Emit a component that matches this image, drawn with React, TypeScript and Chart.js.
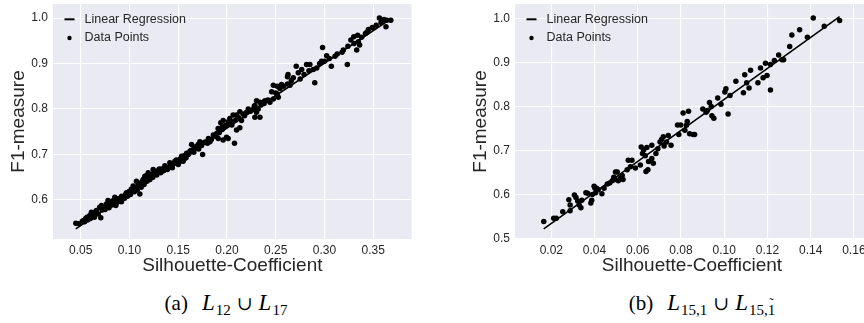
import React, { useEffect, useRef } from "react";
import { Chart, registerables } from "chart.js";

Chart.register(...registerables);

// ---------- Panel (a): L12 ∪ L17 ----------
const xTicksA = [0.05, 0.1, 0.15, 0.2, 0.25, 0.3, 0.35];
const yTicksA = [0.6, 0.7, 0.8, 0.9, 1.0];

const silA = [
  0.045, 0.0517, 0.0531, 0.0552, 0.0565, 0.0593, 0.061, 0.0627, 0.0644, 0.0661,
  0.0706, 0.0695, 0.0713, 0.0747, 0.0764, 0.078, 0.0815, 0.0833, 0.086, 0.085,
  0.0884, 0.0918, 0.0935, 0.0969, 0.0986, 0.1106, 0.102, 0.1038, 0.1055, 0.1072,
  0.1106, 0.1123, 0.114, 0.1158, 0.1202, 0.1175, 0.1192, 0.1226, 0.1243, 0.1277,
  0.1305, 0.1346, 0.1363, 0.1397, 0.1414, 0.1466, 0.15, 0.155, 0.152, 0.1534,
  0.1568, 0.1586, 0.1603, 0.162, 0.1637, 0.1654, 0.1687, 0.1705, 0.1722, 0.175,
  0.1739, 0.179, 0.181, 0.1825, 0.186, 0.1894, 0.191, 0.1995, 0.196, 0.2012,
  0.2077, 0.2098, 0.2132, 0.1909, 0.1953, 0.1995, 0.1936, 0.1961, 0.2012, 0.2047,
  0.2029, 0.2063, 0.2098, 0.2149, 0.2132, 0.2166, 0.2201, 0.2218, 0.232, 0.2286,
  0.2338, 0.2303, 0.2269, 0.2286, 0.2303, 0.2338, 0.2375, 0.2389, 0.244, 0.2475,
  0.2526, 0.2515, 0.2458, 0.2475, 0.2515, 0.2543, 0.256, 0.262, 0.2626, 0.2646,
  0.268, 0.271, 0.2731, 0.2766, 0.2816, 0.285, 0.2885, 0.29, 0.297, 0.298,
  0.3022, 0.307, 0.3108, 0.3193, 0.3234, 0.333, 0.336, 0.3303, 0.33, 0.3347,
  0.3433, 0.349, 0.363, 0.3563, 0.3638, 0.368,
  0.048, 0.054, 0.057, 0.058, 0.06, 0.063, 0.064, 0.066, 0.068, 0.072,
  0.073, 0.075, 0.077, 0.079, 0.08, 0.082, 0.084, 0.087, 0.089, 0.09,
  0.092, 0.095, 0.096, 0.098, 0.1, 0.101, 0.103, 0.105, 0.107, 0.108,
  0.109, 0.112, 0.113, 0.115, 0.116, 0.118, 0.119, 0.121, 0.122, 0.124,
  0.126, 0.128, 0.13, 0.132, 0.133, 0.135, 0.137, 0.139, 0.142, 0.144,
  0.146, 0.148, 0.151, 0.153, 0.156, 0.158, 0.161, 0.163, 0.166, 0.168,
  0.171, 0.174, 0.177, 0.18, 0.184, 0.188, 0.192, 0.195, 0.198, 0.202,
  0.205, 0.209, 0.212, 0.218, 0.224, 0.228, 0.235, 0.238, 0.242, 0.25,
  0.254, 0.258, 0.262, 0.266, 0.275, 0.279, 0.284, 0.292, 0.295, 0.3,
  0.305, 0.313, 0.318, 0.324, 0.327, 0.334, 0.338, 0.342, 0.345, 0.353,
  0.358, 0.361,
];
const f1A = [
  0.549, 0.553, 0.555, 0.559, 0.562, 0.566, 0.573, 0.57, 0.573, 0.577,
  0.561, 0.584, 0.588, 0.584, 0.591, 0.599, 0.596, 0.599, 0.588, 0.606,
  0.602, 0.596, 0.606, 0.616, 0.613, 0.613, 0.624, 0.631, 0.627, 0.641,
  0.631, 0.638, 0.645, 0.652, 0.645, 0.653, 0.66, 0.656, 0.667, 0.663,
  0.668, 0.667, 0.675, 0.671, 0.682, 0.685, 0.678, 0.685, 0.69, 0.696,
  0.692, 0.703, 0.7, 0.707, 0.722, 0.711, 0.714, 0.722, 0.728, 0.7,
  0.725, 0.728, 0.735, 0.728, 0.743, 0.746, 0.735, 0.738, 0.732, 0.735,
  0.725, 0.754, 0.759, 0.757, 0.761, 0.764, 0.77, 0.775, 0.772, 0.772,
  0.779, 0.787, 0.787, 0.775, 0.794, 0.789, 0.793, 0.8, 0.8, 0.782,
  0.782, 0.793, 0.799, 0.808, 0.818, 0.815, 0.815, 0.818, 0.815, 0.822,
  0.826, 0.833, 0.838, 0.852, 0.85, 0.845, 0.854, 0.871, 0.876, 0.852,
  0.869, 0.894, 0.88, 0.887, 0.898, 0.898, 0.887, 0.858, 0.905, 0.935,
  0.917, 0.894, 0.916, 0.93, 0.898, 0.93, 0.941, 0.944, 0.959, 0.948,
  0.968, 0.979, 0.981, 1.0, 0.995, 0.995,
  0.548, 0.552, 0.556, 0.561, 0.559, 0.565, 0.562, 0.571, 0.569, 0.578,
  0.583, 0.579, 0.59, 0.583, 0.592, 0.589, 0.597, 0.594, 0.603, 0.598,
  0.608, 0.604, 0.612, 0.608, 0.619, 0.612, 0.622, 0.618, 0.627, 0.622,
  0.634, 0.628, 0.64, 0.634, 0.646, 0.641, 0.651, 0.645, 0.655, 0.65,
  0.659, 0.655, 0.665, 0.66, 0.668, 0.664, 0.672, 0.667, 0.676, 0.671,
  0.68, 0.688, 0.683, 0.69, 0.697, 0.693, 0.702, 0.709, 0.705, 0.717,
  0.712, 0.72, 0.727, 0.725, 0.733, 0.74, 0.748, 0.755, 0.763, 0.768,
  0.765, 0.776, 0.781, 0.785, 0.795, 0.806, 0.809, 0.812, 0.82, 0.835,
  0.848, 0.85, 0.855, 0.862, 0.866, 0.876, 0.884, 0.89, 0.9, 0.905,
  0.911, 0.921, 0.925, 0.938, 0.952, 0.962, 0.958, 0.966, 0.975, 0.984,
  0.99, 0.997,
];
const regSilA = [0.0449, 0.3682];
const regF1A = [0.5364, 0.9985];

// ---------- Panel (b): L15,1 ∪ L15,1~ ----------
const xTicksB = [0.02, 0.04, 0.06, 0.08, 0.1, 0.12, 0.14, 0.16];
const yTicksB = [0.5, 0.6, 0.7, 0.8, 0.9, 1.0];

const silB = [
  0.0165, 0.0211, 0.0223, 0.0253, 0.0287, 0.0281, 0.0287, 0.0307, 0.0314, 0.0322,
  0.0329, 0.0337, 0.0341, 0.036, 0.0368, 0.0383, 0.0387, 0.039, 0.0398, 0.0402,
  0.0405, 0.041, 0.0417, 0.0434, 0.0444, 0.0459, 0.047, 0.0482, 0.0489, 0.0497,
  0.0505, 0.0497, 0.051, 0.052, 0.0528, 0.0532, 0.0551, 0.0556, 0.0573, 0.0566,
  0.0589, 0.0612, 0.0616, 0.0622, 0.0627, 0.0635, 0.0642, 0.0638, 0.0647, 0.065,
  0.0665, 0.0672, 0.0665, 0.0684, 0.0693, 0.0703, 0.071, 0.0718, 0.0722, 0.0733,
  0.0741, 0.0754, 0.0784, 0.079, 0.0799, 0.081, 0.0818, 0.0825, 0.0829, 0.0835,
  0.084, 0.0856, 0.0863, 0.0901, 0.0916, 0.0922, 0.0932, 0.094, 0.0943, 0.0952,
  0.097, 0.0985, 0.1003, 0.1008, 0.1018, 0.1027, 0.1054, 0.1089, 0.1095, 0.1104,
  0.1115, 0.1122, 0.1156, 0.1168, 0.118, 0.1191, 0.1198, 0.1214, 0.1214, 0.1232,
  0.1252, 0.1267, 0.1275, 0.1303, 0.1313, 0.1349, 0.1385, 0.1412, 0.1463, 0.1534,
];
const f1B = [
  0.54, 0.547, 0.547, 0.562, 0.564, 0.589, 0.577, 0.6, 0.594, 0.586,
  0.577, 0.571, 0.588, 0.605, 0.604, 0.582, 0.588, 0.601, 0.62, 0.615,
  0.605, 0.615, 0.612, 0.603, 0.615, 0.625, 0.627, 0.632, 0.64, 0.652,
  0.652, 0.635, 0.632, 0.638, 0.644, 0.635, 0.657, 0.679, 0.679, 0.664,
  0.661, 0.668, 0.709, 0.694, 0.702, 0.689, 0.708, 0.653, 0.657, 0.676,
  0.683, 0.672, 0.713, 0.694, 0.705, 0.72, 0.726, 0.732, 0.711, 0.72,
  0.735, 0.713, 0.759, 0.737, 0.759, 0.786, 0.747, 0.758, 0.767, 0.79,
  0.739, 0.737, 0.737, 0.795, 0.788, 0.792, 0.81, 0.801, 0.78, 0.774,
  0.82, 0.806, 0.834, 0.841, 0.784, 0.826, 0.858, 0.832, 0.873, 0.855,
  0.843, 0.883, 0.855, 0.888, 0.866, 0.899, 0.871, 0.838, 0.896, 0.905,
  0.918, 0.907, 0.907, 0.937, 0.963, 0.975, 0.958, 1.002, 0.983, 0.996,
];
const regSilB = [0.0165, 0.1534];
const regF1B = [0.5228, 1.005];

const seriesLabels = ["Linear Regression", "Data Points"];
const xTitle = "Silhouette-Coefficient";
const yTitle = "F1-measure";

const SANS = '"Liberation Sans", Arial, sans-serif';
const TEXT = "#262626";

const bgPlugin = {
  id: "bgArea",
  beforeDraw(chart: any) {
    const { ctx, chartArea: a } = chart;
    ctx.save();
    ctx.fillStyle = "#EAEAF2";
    ctx.fillRect(a.left, a.top, a.right - a.left, a.bottom - a.top);
    ctx.restore();
  },
};

const legendPlugin = {
  id: "innerLegend",
  afterDraw(chart: any) {
    const { ctx, chartArea: a } = chart;
    const ds = chart.data.datasets;
    ctx.save();
    ctx.strokeStyle = "#000";
    ctx.lineWidth = 2;
    ctx.beginPath();
    ctx.moveTo(a.left + 11.5, a.top + 15.3);
    ctx.lineTo(a.left + 21.5, a.top + 15.3);
    ctx.stroke();
    ctx.fillStyle = "#000";
    ctx.beginPath();
    ctx.arc(a.left + 16.5, a.top + 34, 2.2, 0, Math.PI * 2);
    ctx.fill();
    ctx.font = `12.5px ${SANS}`;
    ctx.fillStyle = TEXT;
    ctx.textBaseline = "middle";
    ctx.textAlign = "left";
    ctx.fillText(ds[0].label, a.left + 31.5, a.top + 15.7);
    ctx.fillText(ds[1].label, a.left + 31.5, a.top + 34);
    ctx.restore();
  },
};

type PanelProps = {
  left: number;
  width: number;
  height: number;
  padRight: number;
  xMin: number;
  xMax: number;
  yMin: number;
  yMax: number;
  xTicks: number[];
  yTicks: number[];
  xs: number[];
  ys: number[];
  regX: number[];
  regY: number[];
};

function Panel(p: PanelProps) {
  const ref = useRef<HTMLCanvasElement>(null);
  useEffect(() => {
    const pts = p.xs.map((x, i) => ({ x, y: p.ys[i] }));
    const reg = p.regX.map((x, i) => ({ x, y: p.regY[i] }));
    const chart = new Chart(ref.current as HTMLCanvasElement, {
      type: "scatter",
      data: {
        datasets: [
          {
            label: seriesLabels[0],
            data: reg,
            showLine: true,
            borderColor: "#000",
            borderWidth: 1.6,
            pointRadius: 0,
            fill: false,
            order: 1,
          } as any,
          {
            label: seriesLabels[1],
            data: pts,
            backgroundColor: "#000",
            borderWidth: 0,
            pointRadius: 2.75,
            order: 0,
          } as any,
        ],
      },
      options: {
        animation: false,
        responsive: false,
        maintainAspectRatio: false,
        events: [],
        layout: { padding: { left: 0, top: 0, bottom: 0, right: p.padRight } },
        plugins: { legend: { display: false }, tooltip: { enabled: false } },
        scales: {
          x: {
            type: "linear",
            position: "bottom",
            min: p.xMin,
            max: p.xMax,
            afterBuildTicks: (s: any) => {
              s.ticks = p.xTicks.map((v) => ({ value: v }));
            },
            afterFit: (s: any) => {
              s.height = 51;
              s.paddingLeft = 0;
              s.paddingRight = 0;
            },
            grid: { color: "#FFFFFF", lineWidth: 1.1, drawTicks: false },
            border: { display: false },
            ticks: {
              padding: 4,
              color: TEXT,
              autoSkip: false,
              maxRotation: 0,
              font: { family: SANS, size: 12 },
              callback: (v: any) => Number(v).toFixed(2),
            },
            title: {
              display: true,
              text: xTitle,
              color: TEXT,
              font: { family: SANS, size: 19 },
              padding: { top: 0, bottom: 12.4 },
            },
          },
          y: {
            type: "linear",
            min: p.yMin,
            max: p.yMax,
            afterBuildTicks: (s: any) => {
              s.ticks = p.yTicks.map((v) => ({ value: v }));
            },
            afterFit: (s: any) => {
              s.width = 53;
              s.paddingTop = 0;
              s.paddingBottom = 0;
            },
            grid: { color: "#FFFFFF", lineWidth: 1.1, drawTicks: false },
            border: { display: false },
            ticks: {
              padding: 5,
              color: TEXT,
              font: { family: SANS, size: 12 },
              callback: (v: any) => Number(v).toFixed(1),
            },
            title: {
              display: true,
              text: yTitle,
              color: TEXT,
              font: { family: SANS, size: 19 },
              padding: { top: 7.6, bottom: 0 },
            },
          },
        },
      } as any,
      plugins: [bgPlugin, legendPlugin],
    });
    return () => chart.destroy();
  }, []);
  return (
    <canvas
      ref={ref}
      width={p.width}
      height={p.height}
      style={{ position: "absolute", left: p.left, top: 0, width: p.width, height: p.height, display: "block" }}
    />
  );
}

const subStyle: React.CSSProperties = {
  fontSize: 15,
  position: "relative",
  top: 5,
  fontStyle: "normal",
  marginLeft: 1,
};
const italL: React.CSSProperties = { fontStyle: "italic", fontSize: 23 };
const cupStyle: React.CSSProperties = { margin: "0 6px", fontFamily: '"DejaVu Serif", serif', fontSize: 19 };
const capStyle: React.CSSProperties = {
  position: "absolute",
  top: 293,
  width: 300,
  textAlign: "center",
  fontFamily: '"Liberation Serif", "DejaVu Serif", serif',
  fontSize: 21,
  lineHeight: "20px",
  whiteSpace: "nowrap",
  color: "#000",
};

function Tilde1() {
  return (
    <span style={{ position: "relative", display: "inline-block" }}>
      1
      <span style={{ position: "absolute", left: 0, right: 0, top: -7, textAlign: "center", fontSize: 13 }}>˜</span>
    </span>
  );
}

export default function App() {
  return (
    <div style={{ position: "fixed", left: 0, top: 0, width: 864, height: 323, overflow: "hidden", background: "#fff" }}>
      <Panel
        left={0}
        width={432}
        height={290}
        padRight={20.3}
        xMin={0.0216}
        xMax={0.3894}
        yMin={0.5142}
        yMax={1.0309}
        xTicks={xTicksA}
        yTicks={yTicksA}
        xs={silA}
        ys={f1A}
        regX={regSilA}
        regY={regF1A}
      />
      <Panel
        left={462}
        width={411}
        height={290}
        padRight={0}
        xMin={0.0032}
        xMax={0.167}
        yMin={0.5}
        yMax={1.0335}
        xTicks={xTicksB}
        yTicks={yTicksB}
        xs={silB}
        ys={f1B}
        regX={regSilB}
        regY={regF1B}
      />
      <div style={{ ...capStyle, left: 226 - 150 }}>
        (a)<span style={{ marginLeft: 14 }} />
        <span style={italL}>L</span>
        <span style={subStyle}>12</span>
        <span style={cupStyle}>∪</span>
        <span style={italL}>L</span>
        <span style={subStyle}>17</span>
      </div>
      <div style={{ ...capStyle, left: 702 - 150 }}>
        (b)<span style={{ marginLeft: 14 }} />
        <span style={italL}>L</span>
        <span style={subStyle}>15,1</span>
        <span style={cupStyle}>∪</span>
        <span style={italL}>L</span>
        <span style={subStyle}>
          15,<Tilde1 />
        </span>
      </div>
    </div>
  );
}
